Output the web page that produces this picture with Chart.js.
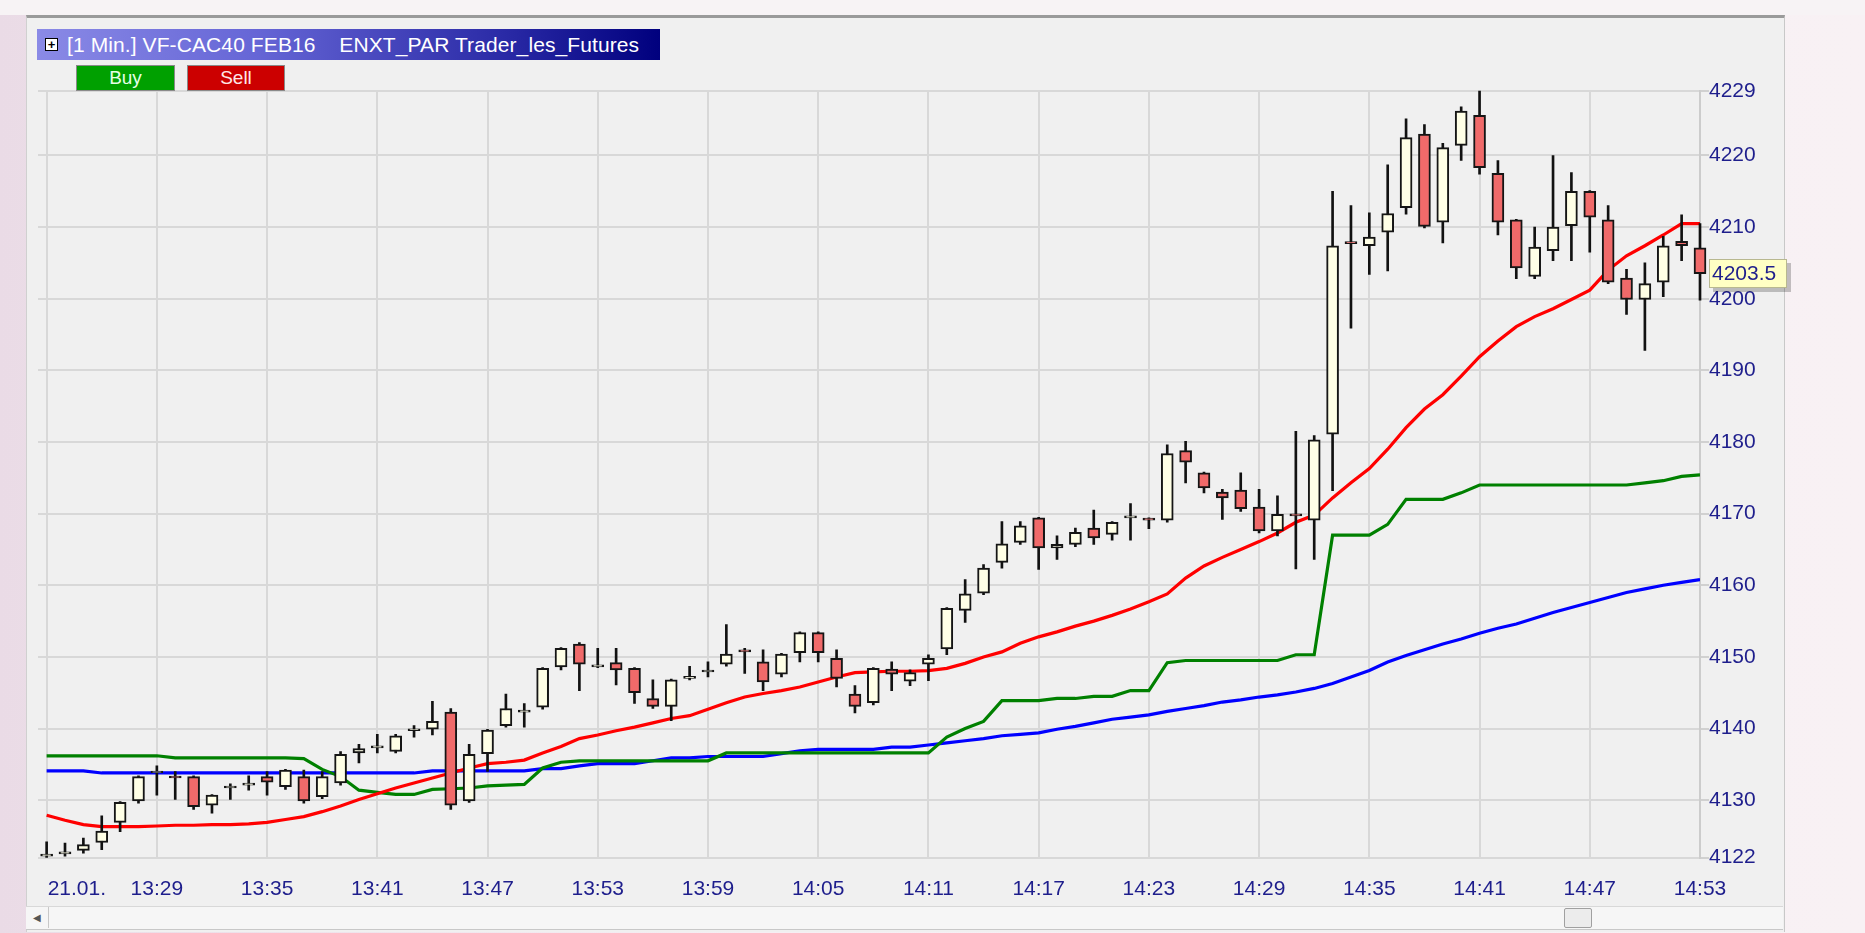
<!DOCTYPE html>
<html>
<head>
<meta charset="utf-8">
<script src="https://cdn.jsdelivr.net/npm/chart.js@4.4.1/dist/chart.umd.min.js"></script>
<style>
  html, body { margin: 0; padding: 0; }
  body { width: 1865px; height: 933px; overflow: hidden; position: relative;
         background: linear-gradient(90deg, #eadbe6 0%, #f6eef3 40%, #f8f1f4 100%);
         font-family: "Liberation Sans", Arial, sans-serif; }
  #topband { position: absolute; left: 0; top: 0; width: 1865px; height: 15px; background: #f7f3f5; }
  #panel { position: absolute; left: 26px; top: 15px; width: 1757px; height: 914px;
           background: #f0f0f0; border-top: 3px solid #9a9a9a; border-left: 1px solid #d0d0d0;
           border-right: 1px solid #c8c8c8; }
  #c { position: absolute; left: 0; top: 0; }
  #title { position: absolute; left: 37px; top: 29px; width: 623px; height: 31px;
           background: linear-gradient(90deg, #8a8ae6 0%, #6666d6 35%, #2a2aa6 75%, #00007e 100%);
           color: #fff; font-size: 21px; line-height: 31px; white-space: pre; }
  #title span { position: absolute; left: 30px; top: 0; letter-spacing: 0.1px; }
  #plus { position: absolute; left: 8px; top: 9px; width: 11px; height: 11px; background: #fff;
          border: 1px solid #000; font-size: 13px; line-height: 11px; text-align: center; color: #000; font-weight: bold; }
  .btn { position: absolute; top: 65px; height: 24px; font-size: 19px; line-height: 24px;
         text-align: center; border: 1px solid #8a8a8a; }
  #buy { left: 76px; width: 97px; background: #00a000; color: #e6ffe6; }
  #sell { left: 187px; width: 96px; background: #cc0000; color: #ffe6e6; }
  #scroll { position: absolute; left: 26px; top: 906px; width: 1757px; height: 22px; background: #f6f6f6;
            border-top: 1px solid #d8d8d8; border-bottom: 1px solid #c8c8c8; }
  #sleft { position: absolute; left: 0; top: 0; width: 22px; height: 21px; border-right: 1px solid #c8c8c8;
           font-size: 10px; line-height: 21px; text-align: center; color: #555; }
  #thumb { position: absolute; left: 1538px; top: 1px; width: 26px; height: 18px; background: #ececec;
           border: 1px solid #a0a0a0; border-radius: 2px; }
</style>
</head>
<body>
<div id="topband"></div>
<div id="panel"></div>
<canvas id="c" width="1865" height="933"></canvas>
<div id="title"><div id="plus">+</div><span>[1 Min.] VF-CAC40 FEB16    ENXT_PAR Trader_les_Futures</span></div>
<div class="btn" id="buy">Buy</div>
<div class="btn" id="sell">Sell</div>
<div id="scroll"><div id="sleft">&#9664;</div><div id="thumb"></div></div>
<script>
// one bar per minute, 13:23 .. 14:53
const timeLabels = ["21.01.", "13:29", "13:35", "13:41", "13:47", "13:53", "13:59", "14:05",
  "14:11", "14:17", "14:23", "14:29", "14:35", "14:41", "14:47", "14:53"];
const yTicks = [4122, 4130, 4140, 4150, 4160, 4170, 4180, 4190, 4200, 4210, 4220, 4229];

const opens = [4122.2, 4122.5, 4123.0, 4124.1, 4126.9, 4129.9, 4133.8, 4133.3, 4133.3, 4129.3,
  4131.7, 4132.1, 4133.3, 4131.9, 4133.3, 4130.5, 4132.4, 4136.6, 4137.3, 4136.8,
  4139.7, 4139.9, 4142.3, 4129.9, 4136.5, 4140.4, 4142.3, 4143.0, 4148.6, 4151.8,
  4148.6, 4149.2, 4148.4, 4144.2, 4143.1, 4147.0, 4147.9, 4149.0, 4150.9, 4149.3,
  4147.6, 4150.6, 4153.4, 4149.8, 4144.8, 4143.6, 4148.3, 4146.6, 4149.0, 4151.1,
  4156.5, 4158.9, 4163.2, 4166.0, 4169.4, 4165.2, 4165.7, 4168.0, 4167.1, 4169.4,
  4169.3, 4169.1, 4178.8, 4175.7, 4173.0, 4173.3, 4170.9, 4167.6, 4169.9, 4169.1,
  4181.1, 4207.9, 4207.4, 4209.3, 4212.7, 4223.0, 4210.7, 4221.4, 4225.6, 4217.5,
  4211.0, 4203.1, 4206.7, 4210.2, 4215.0, 4211.0, 4202.9, 4199.9, 4202.3, 4208.0,
  4207.1];
const highs = [4124.2, 4124.0, 4124.7, 4127.8, 4129.8, 4133.4, 4134.8, 4134.0, 4133.4, 4130.8,
  4132.3, 4133.4, 4134.0, 4134.3, 4134.2, 4134.0, 4136.8, 4137.8, 4139.2, 4139.2,
  4140.4, 4143.8, 4142.8, 4137.8, 4139.9, 4144.8, 4143.5, 4148.5, 4151.3, 4152.0,
  4151.2, 4151.2, 4148.5, 4146.8, 4146.9, 4148.7, 4149.3, 4154.5, 4151.2, 4151.0,
  4150.5, 4153.5, 4153.5, 4151.0, 4146.0, 4148.5, 4149.3, 4148.2, 4150.3, 4156.9,
  4160.8, 4162.9, 4168.9, 4168.9, 4169.5, 4166.9, 4168.0, 4170.5, 4168.9, 4171.4,
  4169.4, 4179.6, 4180.1, 4175.8, 4173.4, 4175.7, 4173.4, 4172.5, 4181.5, 4180.9,
  4215.0, 4213.0, 4212.0, 4218.7, 4225.1, 4224.3, 4221.7, 4226.8, 4229.0, 4219.3,
  4211.1, 4210.0, 4220.0, 4217.6, 4215.1, 4213.0, 4204.1, 4205.0, 4208.7, 4211.7,
  4210.5];
const lows = [4122.0, 4122.2, 4122.6, 4123.1, 4125.6, 4129.6, 4130.7, 4130.1, 4128.7, 4128.2,
  4130.1, 4131.4, 4130.7, 4131.5, 4129.6, 4130.2, 4132.1, 4135.2, 4136.6, 4136.6,
  4138.8, 4139.1, 4128.7, 4129.7, 4134.0, 4140.2, 4140.2, 4142.7, 4148.2, 4145.3,
  4148.5, 4146.1, 4143.5, 4142.8, 4141.1, 4146.8, 4147.2, 4148.7, 4147.7, 4145.3,
  4147.2, 4149.3, 4149.3, 4145.8, 4142.2, 4143.3, 4145.3, 4146.0, 4146.7, 4150.3,
  4154.8, 4158.7, 4162.4, 4165.7, 4162.2, 4163.6, 4165.4, 4165.7, 4166.3, 4166.3,
  4167.9, 4168.8, 4174.3, 4172.9, 4169.2, 4170.3, 4167.3, 4166.9, 4162.3, 4163.6,
  4173.2, 4195.9, 4203.4, 4203.9, 4211.8, 4209.9, 4207.8, 4219.3, 4217.4, 4208.9,
  4202.8, 4202.8, 4205.3, 4205.3, 4206.5, 4202.1, 4197.8, 4192.8, 4200.3, 4205.3,
  4199.8];
const closes = [4122.2, 4122.6, 4123.8, 4125.7, 4129.7, 4133.3, 4133.8, 4133.1, 4129.1, 4130.7,
  4131.7, 4132.1, 4132.5, 4134.2, 4129.9, 4133.3, 4136.4, 4137.2, 4137.3, 4139.0,
  4139.7, 4141.0, 4129.3, 4136.4, 4139.8, 4142.8, 4142.3, 4148.4, 4151.2, 4149.0,
  4148.6, 4148.2, 4145.0, 4143.1, 4146.8, 4147.3, 4147.9, 4150.4, 4150.7, 4146.5,
  4150.4, 4153.4, 4150.6, 4147.0, 4143.1, 4148.4, 4147.6, 4147.8, 4149.8, 4156.8,
  4158.8, 4162.4, 4165.8, 4168.3, 4165.2, 4165.7, 4167.4, 4166.6, 4168.8, 4169.4,
  4169.1, 4178.4, 4177.2, 4173.6, 4172.2, 4170.7, 4167.6, 4169.9, 4169.7, 4180.3,
  4207.4, 4207.7, 4208.6, 4211.9, 4222.5, 4210.1, 4221.1, 4226.2, 4218.3, 4210.7,
  4204.3, 4207.2, 4210.0, 4215.0, 4211.4, 4202.3, 4199.9, 4202.1, 4207.4, 4207.4,
  4203.5];

const redLine = [4127.9, 4127.2, 4126.6, 4126.3, 4126.3, 4126.3, 4126.4, 4126.5, 4126.5, 4126.6,
  4126.6, 4126.7, 4126.9, 4127.3, 4127.7, 4128.4, 4129.2, 4130.1, 4130.9, 4131.7,
  4132.4, 4133.1, 4133.8, 4134.5, 4135.1, 4135.3, 4135.6, 4136.6, 4137.5, 4138.6,
  4139.1, 4139.7, 4140.2, 4140.8, 4141.4, 4141.8, 4142.7, 4143.6, 4144.4, 4144.9,
  4145.3, 4145.8, 4146.5, 4147.2, 4147.8, 4147.9, 4148.0, 4148.0, 4148.1, 4148.4,
  4149.1, 4150.0, 4150.7, 4151.9, 4152.8, 4153.5, 4154.3, 4155.0, 4155.8, 4156.7,
  4157.7, 4158.8, 4161.0, 4162.7, 4163.9, 4165.0, 4166.1, 4167.3, 4168.8, 4169.8,
  4172.2, 4174.3, 4176.3, 4179.0, 4182.0, 4184.6, 4186.6, 4189.2, 4191.9, 4194.1,
  4196.1, 4197.5, 4198.6, 4199.9, 4201.2, 4204.0, 4206.0, 4207.4, 4208.9, 4210.5,
  4210.5];
const greenLine = [4136.2, 4136.2, 4136.2, 4136.2, 4136.2, 4136.2, 4136.2, 4135.9, 4135.9, 4135.9,
  4135.9, 4135.9, 4135.9, 4135.9, 4135.8, 4134.3, 4133.3, 4131.4, 4131.1, 4130.8,
  4130.8, 4131.5, 4131.6, 4131.7, 4132.0, 4132.1, 4132.2, 4134.5, 4135.3, 4135.5,
  4135.5, 4135.5, 4135.5, 4135.5, 4135.5, 4135.5, 4135.5, 4136.6, 4136.6, 4136.6,
  4136.6, 4136.6, 4136.6, 4136.6, 4136.6, 4136.6, 4136.6, 4136.6, 4136.6, 4138.8,
  4140.0, 4141.0, 4143.9, 4143.9, 4143.9, 4144.2, 4144.2, 4144.5, 4144.5, 4145.3,
  4145.3, 4149.2, 4149.5, 4149.5, 4149.5, 4149.5, 4149.5, 4149.5, 4150.3, 4150.3,
  4167.0, 4167.0, 4167.0, 4168.5, 4172.0, 4172.0, 4172.0, 4172.9, 4174.0, 4174.0,
  4174.0, 4174.0, 4174.0, 4174.0, 4174.0, 4174.0, 4174.0, 4174.3, 4174.6, 4175.2,
  4175.4];
const blueLine = [4134.1, 4134.1, 4134.1, 4133.8, 4133.8, 4133.8, 4133.8, 4133.8, 4133.8, 4133.8,
  4133.8, 4133.8, 4133.8, 4133.8, 4133.8, 4133.8, 4133.8, 4133.8, 4133.8, 4133.8,
  4133.8, 4134.1, 4134.1, 4134.1, 4134.1, 4134.1, 4134.1, 4134.4, 4134.4, 4134.8,
  4135.1, 4135.1, 4135.1, 4135.5, 4135.9, 4135.9, 4136.1, 4136.1, 4136.1, 4136.1,
  4136.5, 4136.9, 4137.1, 4137.1, 4137.1, 4137.1, 4137.4, 4137.4, 4137.7, 4138.0,
  4138.3, 4138.6, 4139.0, 4139.2, 4139.4, 4139.9, 4140.3, 4140.8, 4141.3, 4141.6,
  4141.9, 4142.4, 4142.8, 4143.2, 4143.7, 4144.0, 4144.4, 4144.7, 4145.1, 4145.6,
  4146.3, 4147.2, 4148.1, 4149.3, 4150.2, 4151.0, 4151.8, 4152.5, 4153.3, 4154.0,
  4154.6, 4155.4, 4156.2, 4156.9, 4157.6, 4158.3, 4159.0, 4159.5, 4160.0, 4160.4,
  4160.8];

const UP = "#ffffe6", DOWN = "#f06a6a", AXIS_TEXT = "#1e1e8c";
const minutes = opens.map((_, i) => i);
const xy = arr => minutes.map(i => ({ x: i, y: arr[i] }));

// time labels drawn under the grid lines, first one left aligned like the platform does
const timeAxisLabels = {
  id: "timeAxisLabels",
  afterDraw(chart) {
    const ctx = chart.ctx, xs = chart.scales.x;
    ctx.save();
    ctx.font = "21px 'Liberation Sans', Arial";
    ctx.fillStyle = AXIS_TEXT;
    ctx.textBaseline = "middle";
    timeLabels.forEach((t, k) => {
      const px = xs.getPixelForValue(k * 6);
      ctx.textAlign = k === 0 ? "left" : "center";
      ctx.fillText(t, k === 0 ? px + 1 : px, 889);
    });
    ctx.restore();
  }
};

// yellow last-price box on the price axis
const lastPriceBox = {
  id: "lastPriceBox",
  afterDraw(chart) {
    const ctx = chart.ctx, last = closes[closes.length - 1];
    const y = Math.round(chart.scales.y.getPixelForValue(last));
    const x = chart.chartArea.right + 9;
    ctx.save();
    ctx.fillStyle = "rgba(0,0,0,0.22)";
    ctx.fillRect(x + 4, y - 11, 78, 29);
    ctx.fillStyle = "#ffffc4";
    ctx.fillRect(x, y - 15, 78, 29);
    ctx.strokeStyle = "#b8b890";
    ctx.lineWidth = 1;
    ctx.strokeRect(x + 0.5, y - 14.5, 77, 28);
    ctx.fillStyle = AXIS_TEXT;
    ctx.font = "21px 'Liberation Sans', Arial";
    ctx.textBaseline = "middle";
    ctx.fillText(last.toFixed(1), x + 3, y);
    ctx.restore();
  }
};

new Chart(document.getElementById("c"), {
  type: "bar",
  data: {
    datasets: [
      { type: "line", data: xy(redLine), borderColor: "#ff0000", borderWidth: 3.2, pointRadius: 0, tension: 0, order: 3 },
      { type: "line", data: xy(greenLine), borderColor: "#008000", borderWidth: 3.2, pointRadius: 0, tension: 0, order: 4 },
      { type: "line", data: xy(blueLine), borderColor: "#0000ff", borderWidth: 3.2, pointRadius: 0, tension: 0, order: 5 },
      {
        data: minutes.map(i => ({ x: i, y: [lows[i], highs[i]] })),
        backgroundColor: "#111", barThickness: 2, grouped: false, order: 2, clip: 10
      },
      {
        data: minutes.map(i => ({ x: i, y: [opens[i], closes[i]] })),
        backgroundColor: minutes.map(i => closes[i] >= opens[i] ? UP : DOWN),
        borderColor: "#151515", borderWidth: 2, borderSkipped: false,
        barThickness: 12, minBarLength: 2, grouped: false, order: 1, clip: 10
      }
    ]
  },
  options: {
    responsive: false,
    animation: false,
    layout: { padding: { left: 38, top: 91, right: 0, bottom: 0 } },
    plugins: { legend: { display: false }, tooltip: { enabled: false } },
    scales: {
      x: {
        type: "linear", min: -0.47, max: 90, offset: false,
        grid: { offset: false, color: "#d8d8d8", lineWidth: 2, drawTicks: false },
        border: { display: false },
        ticks: { stepSize: 6, includeBounds: false, display: false },
        afterFit(scale) { scale.height = 75.5; }
      },
      y: {
        position: "right", min: 4122, max: 4229,
        grid: { color: "#d8d8d8", lineWidth: 2, tickLength: 9, tickColor: "#d0d0d0" },
        border: { display: true, color: "#cccccc", width: 2 },
        afterBuildTicks(scale) { scale.ticks = yTicks.map(v => ({ value: v })); },
        ticks: { color: AXIS_TEXT, font: { size: 21, family: "'Liberation Sans', Arial" }, padding: 0,
                 callback: v => String(v) },
        afterFit(scale) { scale.width = 165; }
      }
    }
  },
  plugins: [timeAxisLabels, lastPriceBox]
});
</script>
</body>
</html>
